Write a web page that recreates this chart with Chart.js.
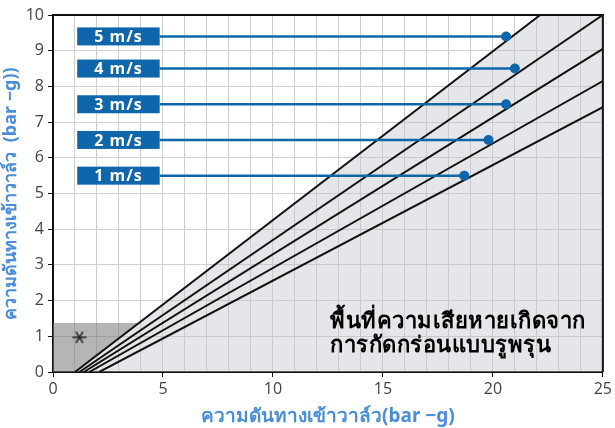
<!DOCTYPE html>
<html lang="th">
<head>
    <meta charset="UTF-8">
    <title>Pitting Damage Zone</title>
    <script src="https://cdn.jsdelivr.net/npm/chart.js"></script>
    <style>
        html, body { margin: 0; padding: 0; background: #fff; }
        .chart-container { width: 615px; height: 428px; }
    </style>
</head>
<body>
    <div class="chart-container">
        <canvas id="damageChart" width="615" height="428"></canvas>
    </div>

    <script>
        // ความเร็วการไหล (ป้ายสีน้ำเงิน)
        const speedLabels = ["1 m/s", "2 m/s", "3 m/s", "4 m/s", "5 m/s"];
        // เส้นขอบเขตสีดำ: จุดเริ่มบนแกน x และจุดปลาย
        const lineStartX = [2.1, 1.65, 1.4, 1.2, 1.0];
        const lineEndX = [25, 25, 25, 25, 22.15];
        const lineEndY = [7.42, 8.15, 9.05, 10, 10];
        // จุดปลายของเส้นสีน้ำเงิน
        const dotX = [18.7, 19.8, 20.6, 21.0, 20.6];
        const dotY = [5.5, 6.5, 7.5, 8.5, 9.4];
        const labelBoxX = [1.1, 4.85];
        // พื้นที่สีเทาเข้มมุมล่างซ้าย (ถึงเส้น 5 m/s)
        const darkZoneY = 1.37;
        const darkZoneEdgeX = 3.9;
        const markerPoint = { x: 1.2, y: 0.97 };

        const xMax = 25, yMax = 10;
        const xLabelStep = 5;

        const blue = "#0f66aa";
        const titleBlue = "#4a8edb";

        const datasets = [];

        // 0: พื้นที่ความเสียหาย (ขวาของเส้น 5 m/s)
        datasets.push({
            data: [
                { x: lineStartX[4], y: 0 },
                { x: lineEndX[4], y: lineEndY[4] },
                { x: xMax, y: yMax }
            ],
            showLine: true,
            fill: "origin",
            backgroundColor: "rgba(190,196,202,0.42)",
            borderWidth: 0,
            pointRadius: 0,
            order: 10
        });

        // 1: ขอบล่างของพื้นที่สีเทาเข้ม (แกน x แล้วตามเส้น 5 m/s)
        datasets.push({
            data: [
                { x: 0, y: 0 },
                { x: lineStartX[4], y: 0 },
                { x: darkZoneEdgeX, y: darkZoneY }
            ],
            showLine: true,
            fill: false,
            borderWidth: 0,
            pointRadius: 0,
            order: 12
        });

        // 2: ขอบบนของพื้นที่สีเทาเข้ม เติมสีลงไปถึง dataset 1
        datasets.push({
            data: [
                { x: 0, y: darkZoneY },
                { x: darkZoneEdgeX, y: darkZoneY }
            ],
            showLine: true,
            fill: 1,
            backgroundColor: "rgba(120,120,120,0.55)",
            borderWidth: 0,
            pointRadius: 0,
            order: 11
        });

        for (let i = 0; i < speedLabels.length; i++) {
            datasets.push({
                data: [
                    { x: lineStartX[i], y: 0 },
                    { x: lineEndX[i], y: lineEndY[i] }
                ],
                showLine: true,
                borderColor: "#111",
                borderWidth: 2,
                pointRadius: 0,
                order: 5
            });
            datasets.push({
                data: [
                    { x: labelBoxX[1], y: dotY[i] },
                    { x: dotX[i], y: dotY[i] }
                ],
                showLine: true,
                borderColor: blue,
                borderWidth: 2.5,
                pointRadius: [0, 5],
                pointBackgroundColor: blue,
                pointBorderWidth: 0,
                order: 1
            });
        }

        // เครื่องหมายดอกจันหกแฉก
        const star = document.createElement("canvas");
        star.width = 16; star.height = 16;
        const sctx = star.getContext("2d");
        sctx.strokeStyle = "#222";
        sctx.lineWidth = 1.6;
        sctx.beginPath();
        for (let a = 0; a < 3; a++) {
            const ang = a * Math.PI / 3;
            const dx = Math.cos(ang) * 7, dy = Math.sin(ang) * 6.5;
            sctx.moveTo(8 - dx, 8 - dy);
            sctx.lineTo(8 + dx, 8 + dy);
        }
        sctx.stroke();

        datasets.push({
            data: [markerPoint],
            pointStyle: star,
            pointRadius: 8,
            order: 0
        });

        const boxesAndText = {
            id: "boxesAndText",
            afterDatasetsDraw(chart) {
                const ctx = chart.ctx;
                const xs = chart.scales.x, ys = chart.scales.y;
                const x0 = xs.getPixelForValue(labelBoxX[0]);
                const x1 = xs.getPixelForValue(labelBoxX[1]);
                ctx.save();
                for (let i = 0; i < speedLabels.length; i++) {
                    const yc = ys.getPixelForValue(dotY[i]);
                    ctx.fillStyle = blue;
                    ctx.fillRect(x0, yc - 9, x1 - x0, 18);
                    ctx.fillStyle = "#fff";
                    ctx.font = "bold 16px 'Open Sans', 'Noto Sans', sans-serif";
                    ctx.letterSpacing = "1px";
                    ctx.textAlign = "center";
                    ctx.textBaseline = "middle";
                    ctx.fillText(speedLabels[i], (x0 + x1) / 2, yc + 1);
                }
                ctx.letterSpacing = "0.5px";
                ctx.fillStyle = "#000";
                ctx.font = "bold 22px Tahoma, 'Noto Sans', sans-serif";
                ctx.textAlign = "left";
                ctx.textBaseline = "middle";
                const tx = xs.getPixelForValue(12.6);
                ctx.fillText("พื้นที่ความเสียหายเกิดจาก", tx, ys.getPixelForValue(1.4));
                ctx.fillText("การกัดกร่อนแบบรูพรุน", tx, ys.getPixelForValue(0.73));
                ctx.letterSpacing = "0px";

                // กรอบด้านบนและด้านขวา
                const a = chart.chartArea;
                ctx.strokeStyle = "#111";
                ctx.lineWidth = 2;
                ctx.beginPath();
                ctx.moveTo(a.left, a.top);
                ctx.lineTo(a.right, a.top);
                ctx.lineTo(a.right, a.bottom);
                ctx.stroke();
                ctx.restore();
            }
        };

        new Chart(document.getElementById("damageChart").getContext("2d"), {
            type: "scatter",
            data: { datasets: datasets },
            plugins: [boxesAndText],
            options: {
                responsive: false,
                animation: false,
                layout: { padding: { left: 0, right: 10, top: 15, bottom: 0 } },
                plugins: {
                    legend: { display: false },
                    tooltip: { enabled: false }
                },
                scales: {
                    x: {
                        type: "linear",
                        min: 0,
                        max: xMax,
                        afterFit: (s) => { s.height = 56; },
                        border: { color: "#111", width: 2 },
                        grid: {
                            color: "#cfcfcf",
                            lineWidth: 1,
                            tickLength: 5,
                            tickColor: (c) => (c.tick && c.tick.value % xLabelStep === 0) ? "#111" : "rgba(0,0,0,0)"
                        },
                        ticks: {
                            stepSize: 1,
                            autoSkip: false,
                            maxRotation: 0,
                            color: "#444",
                            font: { family: "'Open Sans', 'Noto Sans', sans-serif", size: 16 },
                            callback: (v) => v % xLabelStep === 0 ? v : ""
                        },
                        title: {
                            display: true,
                            text: "ความดันทางเข้าวาล์ว(bar −g)",
                            color: titleBlue,
                            font: { family: "Tahoma, 'Noto Sans', sans-serif", size: 19, weight: "bold" },
                            padding: { top: 4, bottom: 0 }
                        }
                    },
                    y: {
                        type: "linear",
                        min: 0,
                        max: yMax,
                        afterFit: (s) => { s.width = 53; },
                        border: { color: "#111", width: 2 },
                        grid: {
                            color: "#cfcfcf",
                            lineWidth: 1,
                            tickLength: 5,
                            tickColor: "#111"
                        },
                        ticks: {
                            stepSize: 1,
                            color: "#444",
                            padding: 4,
                            font: { family: "'Open Sans', 'Noto Sans', sans-serif", size: 16 }
                        },
                        title: {
                            display: true,
                            text: "ความดันทางเข้าวาล์ว  (bar −g))",
                            color: titleBlue,
                            font: { family: "Tahoma, 'Noto Sans', sans-serif", size: 18, weight: "bold" },
                            padding: { top: 0, bottom: 2 }
                        }
                    }
                }
            }
        });
    </script>
</body>
</html>
